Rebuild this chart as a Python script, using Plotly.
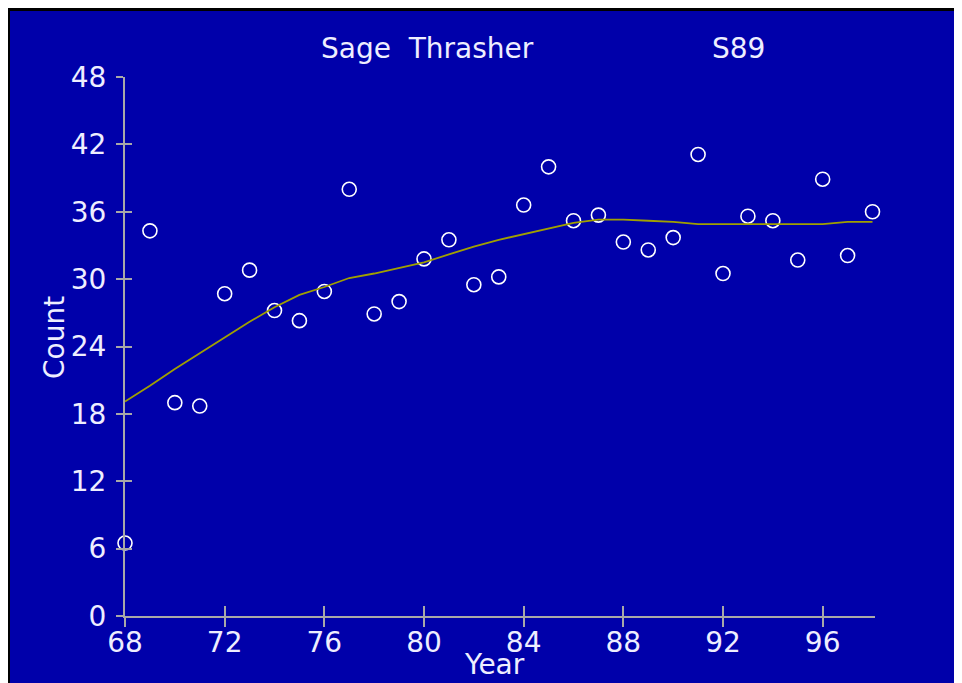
import plotly.graph_objects as go

# Sage Thrasher, route S89 -- yearly counts and smoothed trend
years = list(range(68, 99))
counts = [6.5, 34.3, 19.0, 18.7, 28.7, 30.8, 27.2, 26.3, 28.9, 38.0,
          26.9, 28.0, 31.8, 33.5, 29.5, 30.2, 36.6, 40.0, 35.2, 35.7,
          33.3, 32.6, 33.7, 41.1, 30.5, 35.6, 35.2, 31.7, 38.9, 32.1, 36.0]
trend = [19.1, 20.5, 22.0, 23.4, 24.8, 26.2, 27.5, 28.6, 29.3, 30.1,
         30.5, 31.0, 31.5, 32.2, 32.9, 33.5, 34.0, 34.5, 35.0, 35.3,
         35.3, 35.2, 35.1, 34.9, 34.9, 34.9, 34.9, 34.9, 34.9, 35.1, 35.1]
x_ticks = [68, 72, 76, 80, 84, 88, 92, 96]
y_ticks = [0, 6, 12, 18, 24, 30, 36, 42, 48]

BLUE = "#0000AA"
GREY = "#A8A8A8"
TEXT = "#EEEEFF"
FONT = "DejaVu Sans"

# the page puts the figure 8px in from the top-left corner,
# so everything below is measured in window pixels and shifted back
OFF = 8
W, H = 962 - OFF, 683 - OFF
L, R, T, B = 125, 875, 77, 616  # plot area, window pixels


def px(x):
    return (x - L) / (R - L)


def py(y):
    return (B - y) / (B - T)


fig = go.Figure()
fig.add_trace(go.Scatter(x=years, y=trend, mode="lines",
                         line=dict(color="#A0A000", width=1.8),
                         xaxis="x2", yaxis="y2", hoverinfo="skip"))
fig.add_trace(go.Scatter(x=years, y=counts, mode="markers",
                         marker=dict(symbol="circle-open", size=14, color="white",
                                     line=dict(width=1.6, color="white")),
                         cliponaxis=False))

# ticks cross the axis: labelled axis carries the inner half, overlay the outer
axis_common = dict(showgrid=False, zeroline=False, tickcolor=GREY, tickwidth=2)
fig.update_layout(
    width=W, height=H,
    margin=dict(l=L - OFF, r=962 - R, t=T - OFF, b=683 - B),
    paper_bgcolor=BLUE, plot_bgcolor="rgba(0,0,0,0)",
    showlegend=False,
    font=dict(family=FONT, size=28, color=TEXT),
    xaxis=dict(range=[68, 98.1], tickvals=x_ticks, ticks="inside", ticklen=10,
               showline=True, linecolor=GREY, linewidth=2, **axis_common),
    yaxis=dict(range=[0, 48], tickvals=y_ticks, ticks="outside", ticklen=7,
               ticklabelstandoff=4,
               showline=True, linecolor=GREY, linewidth=2, **axis_common),
    xaxis2=dict(range=[68, 98.1], tickvals=x_ticks, ticks="outside", ticklen=10,
                showticklabels=False, overlaying="x", **axis_common),
    yaxis2=dict(range=[0, 48], tickvals=y_ticks, ticks="inside", ticklen=7,
                showticklabels=False, overlaying="y", **axis_common),
)

ann = dict(xref="paper", yref="paper", showarrow=False,
           xanchor="center", yanchor="middle")
fig.add_annotation(text="Sage  Thrasher", x=px(427), y=py(49), **ann)
fig.add_annotation(text="S89", x=px(738), y=py(49), **ann)
fig.add_annotation(text="Year", x=px(494), y=py(664), **ann)
fig.add_annotation(text="Count", x=px(54), y=py(338), textangle=-90, **ann)

# black frame on the top and left edges (window pixels 8..11 / 8..10)
strips = [(OFF, OFF, 962, 11), (OFF, OFF, 10, 683)]
for x0, y0, x1, y1 in strips:
    fig.add_shape(type="rect", xref="paper", yref="paper",
                  x0=px(x0), x1=px(x1), y0=py(y1), y1=py(y0),
                  fillcolor="black", line=dict(width=0), layer="above")

fig.write_html("out.html")
